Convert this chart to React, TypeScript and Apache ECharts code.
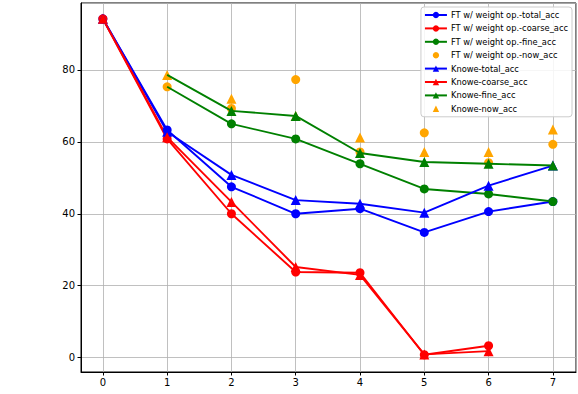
import React, { useEffect, useRef } from "react";
import * as echarts from "echarts";

const steps = [0, 1, 2, 3, 4, 5, 6, 7];
const ftTotal = [94.2, 63.3, 47.5, 40, 41.4, 34.8, 40.6, 43.4];
const ftCoarse = [94.2, 60.8, 40, 23.8, 23.6, 0.8, 3.3, null];
const ftFine = [null, 75.3, 65, 60.8, 53.9, 46.9, 45.5, 43.4];
const ftNow = [null, 75.3, 69.3, 77.3, 57.2, 62.5, 54.2, 59.3];
const kTotal = [94.2, 62.8, 50.8, 43.8, 42.8, 40.3, 47.8, 53.4];
const kCoarse = [94.2, 61.3, 43.3, 25.2, 23, 0.9, 1.8, null];
const kFine = [null, 78.6, 68.6, 67.2, 56.9, 54.4, 53.9, 53.4];
const kNow = [null, 78.6, 72, 67.2, 61.2, 57.2, 57.2, 63.4];

const FONT = "DejaVu Sans";

function pairs(vals: (number | null)[], hideFirstSymbol = false) {
  const out: any[] = [];
  let first = true;
  vals.forEach((v, i) => {
    if (v === null) return;
    if (first && hideFirstSymbol) {
      out.push({ value: [steps[i], v], symbol: "none" });
    } else {
      out.push([steps[i], v]);
    }
    first = false;
  });
  return out;
}

function lineSeries(name: string, vals: (number | null)[], color: string, symbol: string, hideFirst = false) {
  return {
    name,
    type: "line",
    data: pairs(vals, hideFirst),
    symbol,
    symbolSize: symbol === "circle" ? 9 : 10,
    lineStyle: { color, width: 1.9 },
    itemStyle: { color },
    z: 2,
  };
}

function markerSeries(name: string, vals: (number | null)[], color: string, symbol: string) {
  return {
    name,
    type: "line",
    data: pairs(vals),
    symbol,
    symbolSize: symbol === "circle" ? 9 : 10,
    lineStyle: { color, width: 0, opacity: 0 },
    itemStyle: { color, opacity: 1 },
    z: 1,
  };
}

export default function App() {
  const ref = useRef<HTMLDivElement>(null);
  useEffect(() => {
    if (!ref.current) return;
    const chart = echarts.init(ref.current, undefined, { renderer: "svg" });
    chart.setOption({
      animation: false,
      backgroundColor: "#ffffff",
      grid: {
        left: 81,
        right: 2,
        top: 3,
        bottom: 22,
        show: true,
        borderColor: "#000",
        borderWidth: 1,
        backgroundColor: "transparent",
      },
      legend: {
        orient: "vertical",
        right: 6,
        top: 7,
        itemWidth: 22,
        itemHeight: 8,
        itemGap: 5.4,
        padding: [4, 4, 4, 3],
        backgroundColor: "rgba(255,255,255,0.85)",
        borderColor: "#cccccc",
        borderWidth: 1,
        borderRadius: 3,
        textStyle: { fontFamily: FONT, fontSize: 8.3, color: "#000", padding: [0, 0, 0, -1] },
        data: [
          "FT w/ weight op.-total_acc",
          "FT w/ weight op.-coarse_acc",
          "FT w/ weight op.-fine_acc",
          "FT w/ weight op.-now_acc",
          "Knowe-total_acc",
          "Knowe-coarse_acc",
          "Knowe-fine_acc",
          "Knowe-now_acc",
        ],
      },
      xAxis: {
        type: "value",
        min: -0.34,
        max: 7.36,
        splitNumber: 8,
        minInterval: 1,
        axisLine: { show: true, onZero: false, lineStyle: { color: "#000", width: 1 } },
        axisTick: { show: true, length: 3.5, lineStyle: { color: "#000" } },
        axisLabel: {
          showMinLabel: false,
          showMaxLabel: false,
          fontFamily: FONT,
          fontSize: 10,
          color: "#000",
          margin: 5,
        },
        splitLine: { show: true, lineStyle: { color: "#b0b0b0", width: 0.8 } },
      },
      yAxis: {
        type: "value",
        min: -4,
        max: 98.6,
        splitNumber: 5,
        axisLine: { show: true, onZero: false, lineStyle: { color: "#000", width: 1 } },
        axisTick: { show: true, length: 3.5, lineStyle: { color: "#000" } },
        axisLabel: {
          showMinLabel: false,
          showMaxLabel: false,
          fontFamily: FONT,
          fontSize: 10,
          color: "#000",
          margin: 6,
        },
        splitLine: { show: true, lineStyle: { color: "#b0b0b0", width: 0.8 } },
      },
      series: [
        lineSeries("FT w/ weight op.-total_acc", ftTotal, "#0000ff", "circle"),
        lineSeries("FT w/ weight op.-coarse_acc", ftCoarse, "#ff0000", "circle"),
        lineSeries("FT w/ weight op.-fine_acc", ftFine, "#008000", "circle", true),
        markerSeries("FT w/ weight op.-now_acc", ftNow, "#ffa500", "circle"),
        lineSeries("Knowe-total_acc", kTotal, "#0000ff", "triangle"),
        lineSeries("Knowe-coarse_acc", kCoarse, "#ff0000", "triangle"),
        lineSeries("Knowe-fine_acc", kFine, "#008000", "triangle", true),
        markerSeries("Knowe-now_acc", kNow, "#ffa500", "triangle"),
      ],
    });
    return () => chart.dispose();
  }, []);
  return <div ref={ref} style={{ width: 578, height: 394, position: "absolute", left: 0, top: 0 }} />;
}
